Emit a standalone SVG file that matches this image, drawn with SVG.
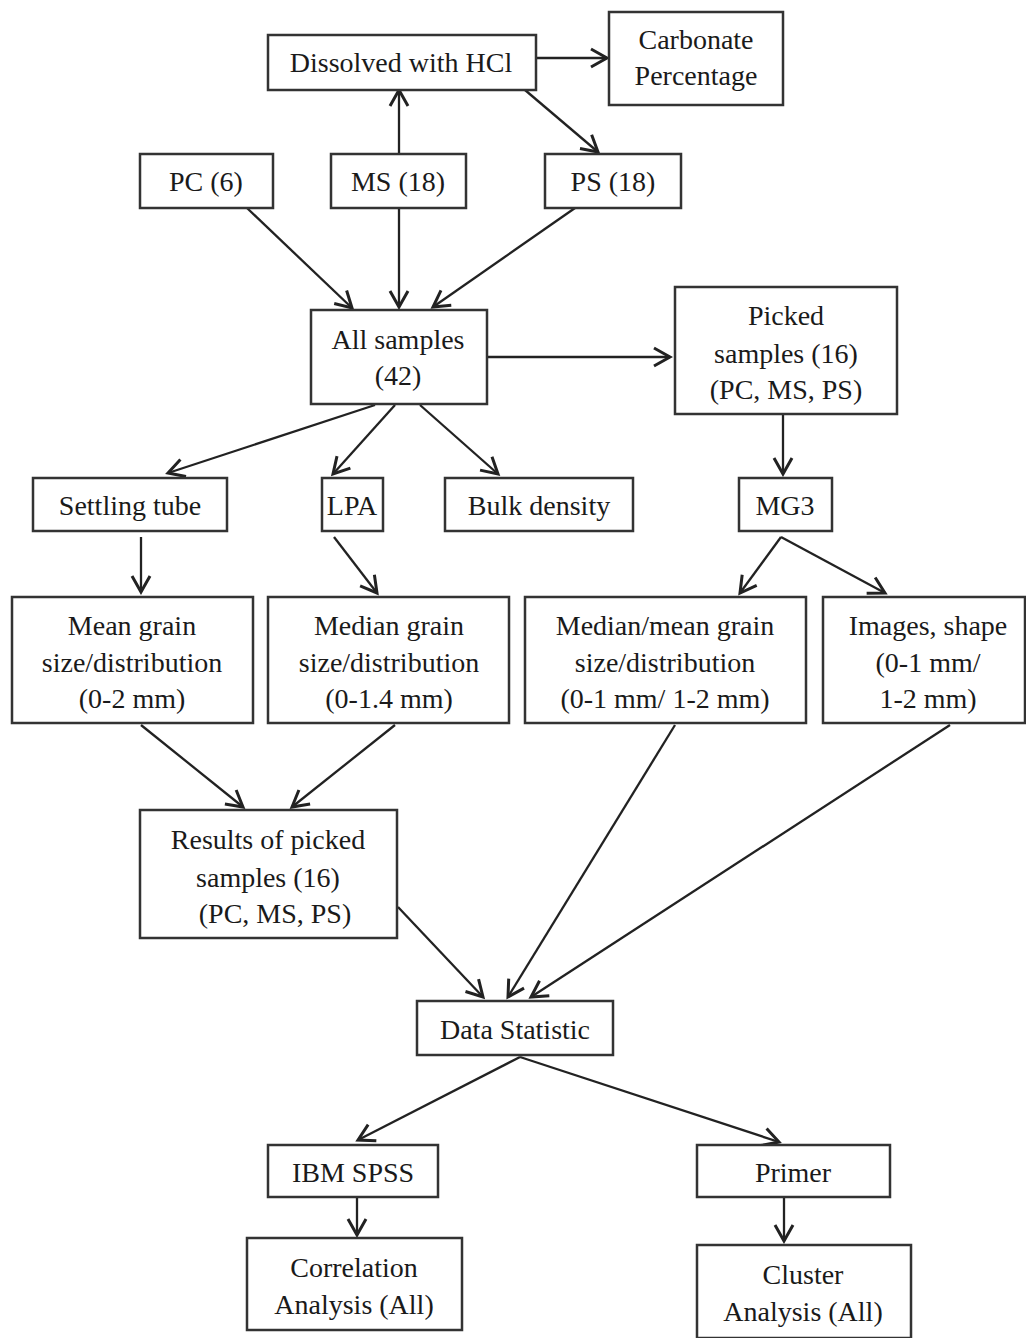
<svg xmlns="http://www.w3.org/2000/svg" width="1026" height="1338" viewBox="0 0 1026 1338">
<style>
.b{fill:#fff;stroke:#333;stroke-width:2.5}
.t{font-family:"Liberation Serif","DejaVu Serif",serif;font-size:28px;fill:#1a1a1a;text-anchor:middle}
.c path{fill:none;stroke:#222;stroke-width:2.3}
</style>
<defs>
<marker id="a" viewBox="0 0 24 24" refX="21" refY="12" markerWidth="24" markerHeight="24" markerUnits="userSpaceOnUse" orient="auto">
<path d="M5,3 L21,12 L5,21" fill="none" stroke="#222" stroke-width="3"/>
</marker>
</defs>
<rect width="1026" height="1338" fill="#fff"/>
<g class="c">
<path d="M536,58 L607,58" marker-end="url(#a)"/>
<path d="M399,154 L399,90" marker-end="url(#a)"/>
<path d="M525,90 L598,152" marker-end="url(#a)"/>
<path d="M247,208 L352,308" marker-end="url(#a)"/>
<path d="M399,208 L399,307" marker-end="url(#a)"/>
<path d="M575,208 L433,307" marker-end="url(#a)"/>
<path d="M487,357 L670,357" marker-end="url(#a)"/>
<path d="M375,405 L168,473" marker-end="url(#a)"/>
<path d="M395,405 L333,474" marker-end="url(#a)"/>
<path d="M420,405 L498,474" marker-end="url(#a)"/>
<path d="M783,414 L783,474" marker-end="url(#a)"/>
<path d="M141,537 L141,592" marker-end="url(#a)"/>
<path d="M334,537 L377,593" marker-end="url(#a)"/>
<path d="M781,537 L740,593" marker-end="url(#a)"/>
<path d="M781,537 L885,593" marker-end="url(#a)"/>
<path d="M141,725 L243,807" marker-end="url(#a)"/>
<path d="M395,725 L292,807" marker-end="url(#a)"/>
<path d="M675,725 L508,997" marker-end="url(#a)"/>
<path d="M950,725 L531,997" marker-end="url(#a)"/>
<path d="M398,907 L483,997" marker-end="url(#a)"/>
<path d="M520,1057 L358,1140" marker-end="url(#a)"/>
<path d="M520,1057 L779,1142" marker-end="url(#a)"/>
<path d="M357,1197 L357,1235" marker-end="url(#a)"/>
<path d="M784,1197 L784,1241" marker-end="url(#a)"/>
</g>
<g id="hcl"><rect class="b" x="268" y="35" width="268" height="55"/><text class="t" x="401" y="72">Dissolved with HCl</text></g>
<g id="carb"><rect class="b" x="609" y="12" width="174" height="93"/><text class="t" x="696" y="49">Carbonate</text><text class="t" x="696" y="85">Percentage</text></g>
<g id="pc"><rect class="b" x="140" y="154" width="133" height="54"/><text class="t" x="206" y="191">PC (6)</text></g>
<g id="ms"><rect class="b" x="331" y="154" width="135" height="54"/><text class="t" x="398" y="191">MS (18)</text></g>
<g id="ps"><rect class="b" x="545" y="154" width="136" height="54"/><text class="t" x="613" y="191">PS (18)</text></g>
<g id="all"><rect class="b" x="311" y="310" width="176" height="94"/><text class="t" x="398" y="349">All samples</text><text class="t" x="398" y="385">(42)</text></g>
<g id="picked"><rect class="b" x="675" y="287" width="222" height="127"/><text class="t" x="786" y="325">Picked</text><text class="t" x="786" y="363">samples (16)</text><text class="t" x="786" y="399">(PC, MS, PS)</text></g>
<g id="settling"><rect class="b" x="33" y="478" width="194" height="53"/><text class="t" x="130" y="515">Settling tube</text></g>
<g id="lpa"><rect class="b" x="322" y="478" width="61" height="53"/><text class="t" x="352" y="515">LPA</text></g>
<g id="bulk"><rect class="b" x="445" y="478" width="188" height="53"/><text class="t" x="539" y="515">Bulk density</text></g>
<g id="mg3"><rect class="b" x="739" y="478" width="93" height="53"/><text class="t" x="785" y="515">MG3</text></g>
<g id="mean"><rect class="b" x="12" y="597" width="241" height="126"/><text class="t" x="132" y="635">Mean grain</text><text class="t" x="132" y="672">size/distribution</text><text class="t" x="132" y="708">(0-2 mm)</text></g>
<g id="median"><rect class="b" x="268" y="597" width="241" height="126"/><text class="t" x="389" y="635">Median grain</text><text class="t" x="389" y="672">size/distribution</text><text class="t" x="389" y="708">(0-1.4 mm)</text></g>
<g id="medmean"><rect class="b" x="525" y="597" width="281" height="126"/><text class="t" x="665" y="635">Median/mean grain</text><text class="t" x="665" y="672">size/distribution</text><text class="t" x="665" y="708">(0-1 mm/ 1-2 mm)</text></g>
<g id="images"><rect class="b" x="823" y="597" width="202" height="126"/><text class="t" x="928" y="635">Images, shape</text><text class="t" x="928" y="672">(0-1 mm/</text><text class="t" x="928" y="708">1-2 mm)</text></g>
<g id="results"><rect class="b" x="140" y="810" width="257" height="128"/><text class="t" x="268" y="849">Results of picked</text><text class="t" x="268" y="887">samples (16)</text><text class="t" x="275" y="923">(PC, MS, PS)</text></g>
<g id="data"><rect class="b" x="417" y="1001" width="196" height="54"/><text class="t" x="515" y="1039">Data Statistic</text></g>
<g id="spss"><rect class="b" x="268" y="1145" width="170" height="52"/><text class="t" x="353" y="1182">IBM SPSS</text></g>
<g id="primer"><rect class="b" x="697" y="1145" width="193" height="52"/><text class="t" x="793" y="1182">Primer</text></g>
<g id="corr"><rect class="b" x="247" y="1238" width="215" height="92"/><text class="t" x="354" y="1277">Correlation</text><text class="t" x="354" y="1314">Analysis (All)</text></g>
<g id="cluster"><rect class="b" x="697" y="1245" width="214" height="93"/><text class="t" x="803" y="1284">Cluster</text><text class="t" x="803" y="1321">Analysis (All)</text></g>
</svg>
